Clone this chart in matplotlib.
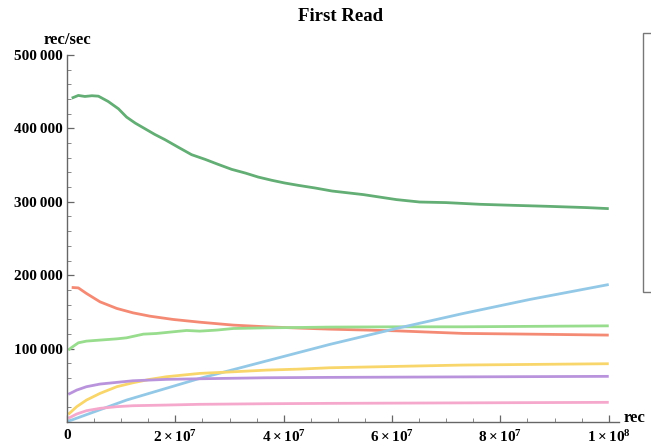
import numpy as np
import matplotlib
matplotlib.use("Agg")
import matplotlib.pyplot as plt
from matplotlib.patches import Rectangle
from matplotlib.ticker import MultipleLocator, FixedLocator

# rec counts (x) and rec/sec (y)
dark_green_x = [0.87e6, 2.1e6, 3.3e6, 4.6e6, 5.8e6, 7.6e6, 9.5e6, 1.1e7, 1.26e7, 1.44e7,
                1.62e7, 1.81e7, 2.05e7, 2.3e7, 2.55e7, 2.79e7, 3.04e7, 3.29e7, 3.53e7, 3.78e7,
                4.02e7, 4.27e7, 4.58e7, 4.89e7, 5.47e7, 6.08e7, 6.51e7, 7.0e7, 7.62e7, 8.23e7,
                8.85e7, 9.59e7, 1e8]
dark_green_y = [441200, 444900, 443500, 444500, 443900, 436700, 426700, 415400, 407200, 399500,
                391800, 384600, 374500, 364200, 357800, 351000, 344200, 339200, 333700, 329300,
                325600, 322400, 318800, 314700, 309800, 303000, 299700, 298900, 296600, 295200,
                293900, 292100, 290700]

salmon_x = [0.87e6, 2.1e6, 3.6e6, 6.1e6, 9.2e6, 1.22e7, 1.53e7, 1.96e7, 2.45e7, 3.07e7,
            3.68e7, 4.3e7, 4.85e7, 6.08e7, 7.31e7, 8.54e7, 1e8]
salmon_y = [183300, 182700, 175100, 163700, 154700, 148700, 144200, 139700, 136000, 132000,
            129700, 127900, 126500, 124200, 120700, 119700, 118400]

light_green_x = [0.24e6, 0.87e6, 2.1e6, 3.6e6, 6.1e6, 9.2e6, 1.1e7, 1.41e7, 1.65e7, 1.96e7,
                 2.21e7, 2.45e7, 2.76e7, 3.07e7, 3.68e7, 4.3e7, 4.85e7, 6.08e7, 7.31e7, 1e8]
light_green_y = [98000, 101600, 107900, 110200, 111600, 113300, 114700, 119700, 120600, 122900,
                 124700, 123800, 125200, 127400, 128300, 128800, 129300, 129700, 129700, 131000]

blue_x = [0.0, 0.87e6, 1.1e7, 2.45e7, 4.85e7, 6.08e7, 7.31e7, 8.54e7, 1e8]
blue_y = [1000, 2700, 29900, 59400, 105700, 127400, 147800, 166900, 187300]

yellow_x = [0.24e6, 1.8e6, 3.6e6, 6.1e6, 9.2e6, 1.22e7, 1.53e7, 1.84e7, 2.15e7, 2.45e7,
            3.07e7, 3.68e7, 4.3e7, 4.85e7, 7.31e7, 1e8]
yellow_y = [10400, 20900, 29900, 39000, 48100, 53500, 58100, 61700, 64000, 66200,
            68400, 70700, 72100, 73900, 77600, 79400]

purple_x = [0.24e6, 1.8e6, 3.6e6, 6.1e6, 9.2e6, 1.22e7, 1.84e7, 2.45e7, 3.68e7, 4.85e7, 1e8]
purple_y = [37700, 43500, 48100, 51700, 54000, 56200, 58100, 58900, 60300, 60800, 62200]

pink_x = [0.24e6, 1.8e6, 3.6e6, 6.1e6, 9.2e6, 1.22e7, 1.84e7, 2.45e7, 3.68e7, 4.85e7, 1e8]
pink_y = [5000, 10900, 15400, 18600, 20900, 22200, 23100, 24100, 24900, 25400, 26800]

series = [
    (dark_green_x, dark_green_y, '#63ae74'),
    (salmon_x, salmon_y, '#f58a74'),
    (light_green_x, light_green_y, '#98dc8e'),
    (blue_x, blue_y, '#93c9e6'),
    (yellow_x, yellow_y, '#f9d66b'),
    (purple_x, purple_y, '#b994dc'),
    (pink_x, pink_y, '#f6a8cc'),
]

x_ticks = [0, 2e7, 4e7, 6e7, 8e7, 1e8]
x_tick_labels = ['0', r'$2\times10^{7}$', r'$4\times10^{7}$', r'$6\times10^{7}$',
                 r'$8\times10^{7}$', r'$1\times10^{8}$']
y_ticks = [100000, 200000, 300000, 400000, 500000]
y_tick_labels = ['100\u2009000', '200\u2009000', '300\u2009000', '400\u2009000', '500\u2009000']

plt.rcParams['font.family'] = ['Liberation Serif', 'DejaVu Serif']
plt.rcParams['font.weight'] = 'bold'
plt.rcParams['mathtext.fontset'] = 'custom'
plt.rcParams['mathtext.rm'] = 'Liberation Serif:bold'
plt.rcParams['mathtext.it'] = 'Liberation Serif:bold'
plt.rcParams['mathtext.bf'] = 'Liberation Serif:bold'

fig = plt.figure(figsize=(6.51, 4.46), dpi=100)
ax = fig.add_axes([0.1029, 0.0538, 0.8480, 0.8229])

for xs, ys, col in series:
    ax.plot(xs, ys, color=col, lw=2.0, solid_capstyle='butt', solid_joinstyle='round')

ax.set_xlim(0, 1.019e8)
ax.set_ylim(0, 500000)

ax.xaxis.set_major_locator(FixedLocator(x_ticks))
ax.set_xticklabels(x_tick_labels)
ax.xaxis.set_minor_locator(MultipleLocator(5e6))
ax.yaxis.set_major_locator(FixedLocator(y_ticks))
ax.set_yticklabels(y_tick_labels)
ax.yaxis.set_minor_locator(MultipleLocator(20000))

for s in ['top', 'right']:
    ax.spines[s].set_visible(False)
for s in ['left', 'bottom']:
    ax.spines[s].set_color('#666666')
    ax.spines[s].set_linewidth(1.0)

ax.tick_params(which='major', direction='in', length=5, width=0.9, color='#666666',
               labelsize=11)
ax.tick_params(axis='x', which='major', pad=5)
ax.tick_params(axis='y', which='major', pad=3)
ax.tick_params(which='minor', direction='in', length=3, width=0.7, color='#888888')
for lab in ax.get_xticklabels() + ax.get_yticklabels():
    lab.set_fontweight('bold')

fig.text(0.523, 0.962, 'First Read', ha='center', va='center', fontsize=13.5, fontweight='bold')
fig.text(0.104, 0.910, 'rec/sec', ha='center', va='center', fontsize=12, fontweight='bold')
fig.text(0.958, 0.062, 'rec', ha='left', va='center', fontsize=12, fontweight='bold')

# legend frame, cut off by the right edge in the reference
fig.patches.append(Rectangle((643 / 651, (446 - 292) / 446), 0.2, (292 - 33) / 446,
                             transform=fig.transFigure, facecolor='white',
                             edgecolor='#777777', lw=1.0))

fig.savefig('out.png', dpi=100)
